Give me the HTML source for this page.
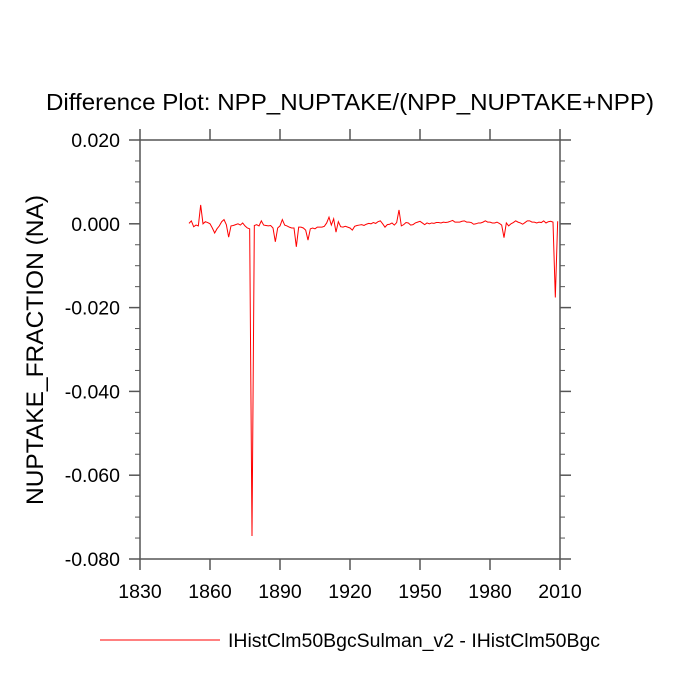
<!DOCTYPE html>
<html><head><meta charset="utf-8"><style>
body{margin:0;background:#fff;}
svg{display:block;font-family:"Liberation Sans",sans-serif;}
</style></head><body>
<svg id="chart" width="700" height="700" xmlns="http://www.w3.org/2000/svg">
<text x="350" y="110" text-anchor="middle" font-size="23.5" textLength="608" lengthAdjust="spacingAndGlyphs">Difference Plot: NPP_NUPTAKE/(NPP_NUPTAKE+NPP)</text>
<text transform="translate(43,350) rotate(-90)" text-anchor="middle" font-size="24" textLength="310" lengthAdjust="spacingAndGlyphs">NUPTAKE_FRACTION  (NA)</text>
<g id="axes"></g>
<polyline id="series" fill="none" stroke="#ff0000" stroke-width="1"/>
<line x1="100" y1="640" x2="220" y2="640" stroke="#ff0000" stroke-width="1"/>
<text x="228" y="647" font-size="19" textLength="372" lengthAdjust="spacingAndGlyphs">IHistClm50BgcSulman_v2 - IHistClm50Bgc</text>
</svg>
<script>
const startYear = 1851;
const values = [0.0001,0.0007,-0.0007,-0.0003,-0.0005,0.0045,0.0000,0.0005,0.0003,0.0000,
-0.0010,-0.0022,-0.0012,-0.0005,0.0005,0.0010,-0.0002,-0.0032,-0.0005,-0.0004,
-0.0002,0.0000,-0.0003,0.0002,-0.0005,-0.0010,-0.0012,-0.0745,-0.0004,-0.0002,
-0.0005,0.0007,-0.0003,-0.0004,-0.0005,-0.0004,-0.0010,-0.0043,-0.0010,-0.0005,
0.0010,-0.0003,-0.0005,-0.0008,-0.0010,-0.0010,-0.0055,-0.0008,-0.0008,-0.0010,
-0.0015,-0.0039,-0.0012,-0.0010,-0.0012,-0.0008,-0.0008,-0.0008,-0.0006,0.0002,
0.0016,-0.0003,0.0012,-0.0020,0.0005,-0.0007,-0.0008,-0.0006,-0.0008,-0.0010,
-0.0015,-0.0006,-0.0004,-0.0003,-0.0002,-0.0004,-0.0001,0.0001,0.0000,0.0003,
0.0001,0.0005,0.0007,0.0000,-0.0008,-0.0002,-0.0001,0.0002,-0.0003,0.0003,
0.0033,-0.0005,-0.0002,0.0003,0.0002,-0.0003,-0.0002,0.0002,0.0004,0.0006,
0.0002,-0.0002,0.0002,0.0000,0.0002,0.0001,0.0003,0.0003,0.0002,0.0004,
0.0003,0.0004,0.0006,0.0008,0.0004,0.0004,0.0004,0.0006,0.0007,0.0004,
0.0004,0.0003,-0.0001,0.0000,0.0002,0.0002,0.0004,0.0007,0.0004,0.0004,
0.0002,0.0002,0.0004,0.0001,-0.0003,-0.0033,0.0002,-0.0005,0.0000,0.0003,
0.0007,0.0004,0.0002,-0.0001,0.0003,0.0007,0.0007,0.0004,0.0004,0.0002,
0.0004,0.0003,0.0007,0.0002,0.0005,0.0006,0.0004,-0.0176,0.0006];
const xTicks = [1830,1860,1890,1920,1950,1980,2010];
const yTicks = [0.020,0.000,-0.020,-0.040,-0.060,-0.080];
const yTickLabels = ["0.020","0.000","-0.020","-0.040","-0.060","-0.080"];

const L=140,R=560,T=140,B=559;
const xScale = y => 140 + (y-1830)*70/30;
const yScale = v => T + (0.020 - v)*(B-T)/0.1;
const NS="http://www.w3.org/2000/svg";
const axes=document.getElementById('axes');
function mk(tag,attrs){const e=document.createElementNS(NS,tag);for(const k in attrs)e.setAttribute(k,attrs[k]);axes.appendChild(e);return e;}
const col="#555";
const frame=mk('rect',{x:L,y:T,width:R-L,height:B-T,fill:'none',stroke:col,'stroke-width':1.5});


xTicks.forEach(t=>{
  const x=xScale(t);
  const a=mk('line',{x1:x,y1:B,x2:x,y2:B+11,stroke:col,'stroke-width':1.5});
  
  
  const b=mk('line',{x1:x,y1:T,x2:x,y2:T-11,stroke:col,'stroke-width':1.5});
  
  
  const tx=mk('text',{x:x,y:B+39,'text-anchor':'middle','font-size':19.5});
  tx.textContent=t;
  
  
});
for(let v=0.020; v>=-0.0801; v-=0.005){
  const y=yScale(v);
  const major=Math.abs(Math.round(v*1000)%20)===0;
  const len=major?11:5;
  const a=mk('line',{x1:L-len,y1:y,x2:L,y2:y,stroke:col,'stroke-width':major?1.5:1});
  
  
  const b=mk('line',{x1:R,y1:y,x2:R+len,y2:y,stroke:col,'stroke-width':major?1.5:1});
  
  
}
yTicks.forEach((t,i)=>{
  const tx=mk('text',{x:L-20,y:yScale(t)+7,'text-anchor':'end','font-size':19.5});
  tx.textContent=yTickLabels[i];
  
  
});
document.getElementById('series').setAttribute('points',
  values.map((v,i)=>xScale(startYear+i).toFixed(2)+','+yScale(v).toFixed(2)).join(' '));
</script>
</body></html>
